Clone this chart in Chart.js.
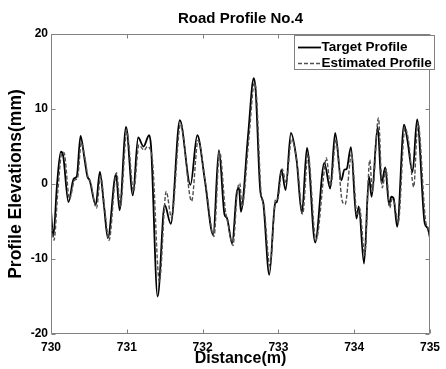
<!DOCTYPE html>
<html>
<head>
<meta charset="utf-8">
<title>Road Profile No.4</title>
<script src="https://cdn.jsdelivr.net/npm/chart.js@4/dist/chart.umd.min.js"></script>
<style>
  html, body { margin: 0; padding: 0; background: #fff; }
  #wrap { width: 446px; height: 369px; }
</style>
</head>
<body>
<div id="wrap"><canvas id="chart" width="446" height="369"></canvas></div>
<script>
// ---- data (distance in m, elevation in mm) ----
const X_TICKS = [730, 731, 732, 733, 734, 735];
const Y_TICKS = [-20, -10, 0, 10, 20];

const targetX = [730.00, 730.03, 730.08, 730.13, 730.16, 730.23, 730.30, 730.34, 730.39, 730.44,
  730.48, 730.51, 730.59, 730.645, 730.70, 730.75, 730.857, 730.905, 730.99, 731.08,
  731.15, 731.22, 731.295, 731.32, 731.407, 731.50, 731.58, 731.70, 731.84, 731.93,
  732.03, 732.14, 732.215, 732.29, 732.32, 732.39, 732.45, 732.48, 732.505, 732.60,
  732.675, 732.70, 732.76, 732.80, 732.88, 732.957, 732.98, 733.04, 733.095, 733.165,
  733.24, 733.31, 733.377, 733.485, 733.606, 733.684, 733.749, 733.83, 733.87, 733.90,
  733.957, 734.03, 734.06, 734.13, 734.195, 734.23, 734.31, 734.36, 734.41, 734.46,
  734.49, 734.52, 734.567, 734.658, 734.70, 734.77, 734.83, 734.93, 734.97, 735.00];
const targetY = [-3.5, -7.0, 0.0, 4.3, 3.8, -2.4, 0.7, 1.0, 6.4, 3.5,
  1.0, 0.5, -2.8, 1.6, -3.0, -7.2, 1.3, -3.5, 7.6, -1.5,
  6.2, 5.0, 6.5, 5.0, -15.0, -2.8, -5.3, 8.5, -0.1, 6.5,
  0.5, -6.8, 4.5, -4.1, -4.5, -7.9, -1.2, -0.5, -3.7, 6.5,
  14.1, 12.5, -0.8, -2.5, -12.1, -2.6, -2.4, 1.9, -0.8, 6.8,
  3.2, -3.9, 4.8, -7.8, 2.8, -0.6, 6.8, 0.5, 1.9, 2.0,
  4.9, -4.6, -3.0, -10.6, 1.0, -1.7, 7.6, 0.1, 2.2, -2.8,
  -1.7, -1.9, -5.7, 7.9, 6.0, 1.6, 8.6, -5.2, -5.9, -7.2];

const estX = [730.00, 730.04, 730.09, 730.14, 730.17, 730.245, 730.31, 730.35, 730.40, 730.45,
  730.49, 730.52, 730.60, 730.655, 730.71, 730.765, 730.865, 730.915, 731.00, 731.09,
  731.16, 731.23, 731.27, 731.30, 731.34, 731.43, 731.52, 731.59, 731.71, 731.855,
  731.94, 732.04, 732.15, 732.225, 732.30, 732.33, 732.40, 732.46, 732.49, 732.52,
  732.61, 732.685, 732.71, 732.77, 732.81, 732.89, 732.965, 732.99, 733.05, 733.10,
  733.175, 733.25, 733.32, 733.39, 733.495, 733.61, 733.63, 733.69, 733.76, 733.84,
  733.88, 733.965, 734.04, 734.07, 734.14, 734.205, 734.24, 734.32, 734.37, 734.42,
  734.47, 734.50, 734.53, 734.58, 734.67, 734.72, 734.785, 734.84, 734.94, 734.98, 735.00];
const estY = [-5.0, -7.5, -1.0, 4.0, 4.2, -2.0, 0.5, 0.8, 5.5, 3.3,
  0.8, 0.3, -3.2, 1.0, -3.5, -7.5, 1.5, -3.0, 7.0, -1.0,
  5.2, 4.5, 5.0, 4.8, 3.0, -13.0, -1.0, -4.5, 8.0, -2.3,
  5.8, 0.0, -7.0, 4.3, -3.5, -5.0, -8.2, -0.8, 0.1, -3.0,
  6.0, 13.5, 12.0, -1.0, -3.0, -11.0, -2.0, -2.0, 2.0, 0.2,
  6.0, 2.5, -4.0, 4.0, -7.5, 2.2, 3.5, -0.3, 6.0, -2.2,
  -2.7, 4.0, -4.2, -3.2, -9.5, 3.2, -1.0, 8.8, -0.5, 2.0,
  -3.2, -2.0, -2.5, -5.2, 7.5, 5.5, -0.4, 8.2, -4.8, -6.0, -7.0];

const FONT = '"Liberation Sans", Arial, sans-serif';
const FRAME = '#808080';

// box round the plot with inward tick marks, like the original figure
const framePlugin = {
  id: 'frame',
  afterDatasetsDraw(chart) {
    const { ctx, chartArea: a, scales: { x, y } } = chart;
    const L = Math.round(a.left) + 0.5, R = Math.round(a.right) - 0.5;
    const T = Math.round(a.top) + 0.5, B = Math.round(a.bottom) - 0.5;
    ctx.save();
    ctx.strokeStyle = FRAME;
    ctx.lineWidth = 1;
    ctx.beginPath();
    ctx.rect(L, T, R - L, B - T);
    X_TICKS.forEach(v => {
      const px = Math.round(x.getPixelForValue(v)) + 0.5;
      ctx.moveTo(px, B); ctx.lineTo(px, B - 4);
      ctx.moveTo(px, T); ctx.lineTo(px, T + 4);
    });
    Y_TICKS.forEach(v => {
      const py = Math.round(y.getPixelForValue(v)) + 0.5;
      ctx.moveTo(L, py); ctx.lineTo(L + 4, py);
      ctx.moveTo(R, py); ctx.lineTo(R - 4, py);
    });
    ctx.stroke();
    ctx.restore();
  }
};

// legend box in the top right corner
const legendBox = {
  id: 'legendBox',
  afterDraw(chart) {
    const { ctx } = chart;
    const items = chart.data.datasets;
    ctx.save();
    ctx.fillStyle = '#fff';
    ctx.fillRect(294, 35, 140, 34);
    ctx.strokeStyle = FRAME;
    ctx.lineWidth = 1;
    ctx.strokeRect(294.5, 35.5, 140, 34);
    ctx.font = 'bold 13.5px ' + FONT;
    ctx.textBaseline = 'middle';
    ctx.textAlign = 'left';
    items.forEach((ds, i) => {
      const cy = 47 + i * 16;
      ctx.beginPath();
      ctx.strokeStyle = ds.borderColor;
      ctx.lineWidth = ds.borderWidth;
      ctx.setLineDash(ds.borderDash || []);
      ctx.moveTo(298, cy + 0.5);
      ctx.lineTo(321, cy + 0.5);
      ctx.stroke();
      ctx.setLineDash([]);
      ctx.fillStyle = '#000';
      ctx.fillText(ds.label, 321.5, cy + 0.5);
    });
    ctx.restore();
  }
};

new Chart(document.getElementById('chart'), {
  type: 'line',
  data: {
    datasets: [
      {
        label: 'Target Profile',
        data: targetX.map((d, i) => ({ x: d, y: targetY[i] })),
        borderColor: '#000',
        borderWidth: 1.8,
        pointRadius: 0,
        cubicInterpolationMode: 'monotone',
        order: 1
      },
      {
        label: 'Estimated Profile',
        data: estX.map((d, i) => ({ x: d, y: estY[i] })),
        borderColor: '#505050',
        borderWidth: 1.4,
        borderDash: [4, 2],
        pointRadius: 0,
        cubicInterpolationMode: 'monotone',
        order: 0
      }
    ]
  },
  options: {
    responsive: false,
    animation: false,
    layout: { padding: { left: 0, right: 10, top: 0, bottom: 0 } },
    plugins: {
      legend: { display: false },
      tooltip: { enabled: false },
      title: {
        display: true,
        text: 'Road Profile No.4',
        fullSize: false,
        color: '#000',
        font: { family: FONT, size: 15, weight: 'bold', lineHeight: 1.2 },
        padding: { top: 10, bottom: 6 }
      }
    },
    scales: {
      x: {
        type: 'linear',
        min: 730,
        max: 735,
        afterFit(scale) { scale.height = 35; },
        afterBuildTicks(scale) { scale.ticks = X_TICKS.map(v => ({ value: v })); },
        grid: { display: false, drawTicks: false },
        border: { display: false },
        ticks: {
          color: '#000',
          padding: 6,
          maxRotation: 0,
          font: { family: FONT, size: 12, weight: 'bold' }
        },
        title: {
          display: true,
          text: 'Distance(m)',
          color: '#000',
          font: { family: FONT, size: 16, weight: 'bold', lineHeight: 1.2 },
          padding: { top: 0, bottom: 1 }
        }
      },
      y: {
        min: -20,
        max: 20,
        afterFit(scale) { scale.width = 51; },
        afterBuildTicks(scale) { scale.ticks = Y_TICKS.map(v => ({ value: v })); },
        grid: { display: false, drawTicks: false },
        border: { display: false },
        ticks: {
          color: '#000',
          padding: 3,
          font: { family: FONT, size: 12, weight: 'bold' }
        },
        title: {
          display: true,
          text: 'Profile Elevations(mm)',
          color: '#000',
          font: { family: FONT, size: 17.5, weight: 'bold', lineHeight: 1.2 },
          padding: { top: 6, bottom: 0 }
        }
      }
    }
  },
  plugins: [framePlugin, legendBox]
});
</script>
</body>
</html>
